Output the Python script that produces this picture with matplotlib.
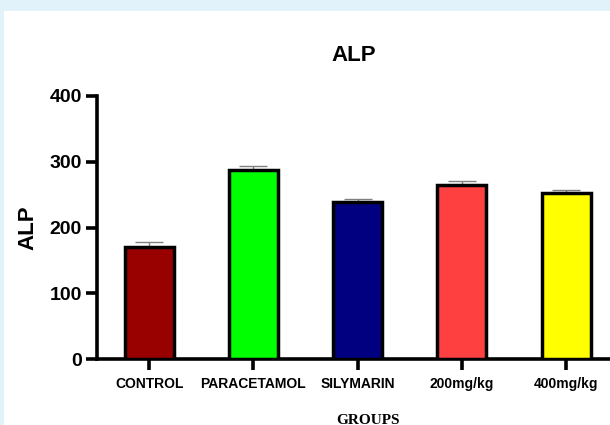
import matplotlib.pyplot as plt
from matplotlib.patches import Rectangle

# ---------- Data ----------
groups = ["CONTROL", "PARACETAMOL", "SILYMARIN", "200mg/kg", "400mg/kg"]
alp_mean = [171, 287, 238, 265, 252]
alp_err = [7, 7, 5, 5, 5]
bar_colors = ["#990000", "#00ff00", "#000080", "#ff4040", "#ffff00"]

plt.rcParams["font.family"] = ["Liberation Sans", "DejaVu Sans"]

fig = plt.figure(figsize=(6.1, 4.25), dpi=100, facecolor="#e1f2fb")
# white page panel over the light blue frame
fig.add_artist(Rectangle((4 / 610, 0), 1, 1 - 11 / 425, transform=fig.transFigure,
                         facecolor="white", edgecolor="none", zorder=-10))

ax = fig.add_axes([97 / 610, 1 - 359.3 / 425, 1 - 97 / 610, (359.3 - 95.7) / 425])
ax.set_facecolor("white")

x = range(len(groups))
ax.bar(x, alp_mean, width=0.47, color=bar_colors, edgecolor="black", linewidth=2.5, zorder=3)
ax.errorbar(x, alp_mean, yerr=[[0] * len(alp_err), alp_err], fmt="none",
            ecolor="#808080", elinewidth=1, capsize=10, capthick=1, zorder=2)

ax.set_xlim(-0.5, 4.42)
ax.set_ylim(0, 400)
ax.set_yticks([0, 100, 200, 300, 400])
ax.set_xticks(list(x))
ax.set_xticklabels(groups, fontsize=10, fontweight="bold")
for lbl in ax.get_yticklabels():
    lbl.set_fontsize(14)
    lbl.set_fontweight("bold")

for side in ["top", "right"]:
    ax.spines[side].set_visible(False)
for side in ["left", "bottom"]:
    ax.spines[side].set_linewidth(2.6)
ax.tick_params(axis="both", width=2.6, length=8)
ax.tick_params(axis="x", pad=4.5)
ax.tick_params(axis="y", pad=3)

ax.set_ylabel("ALP", fontsize=16, fontweight="bold", labelpad=8)
ax.set_title("ALP", fontsize=16, fontweight="bold", pad=25, x=0.5)

fig.text(368 / 610, 1 - 420 / 425, "GROUPS", ha="center", va="center",
         fontsize=11, fontweight="bold", family=["Liberation Serif", "DejaVu Serif"])

fig.savefig("out.png", dpi=100, facecolor=fig.get_facecolor())
